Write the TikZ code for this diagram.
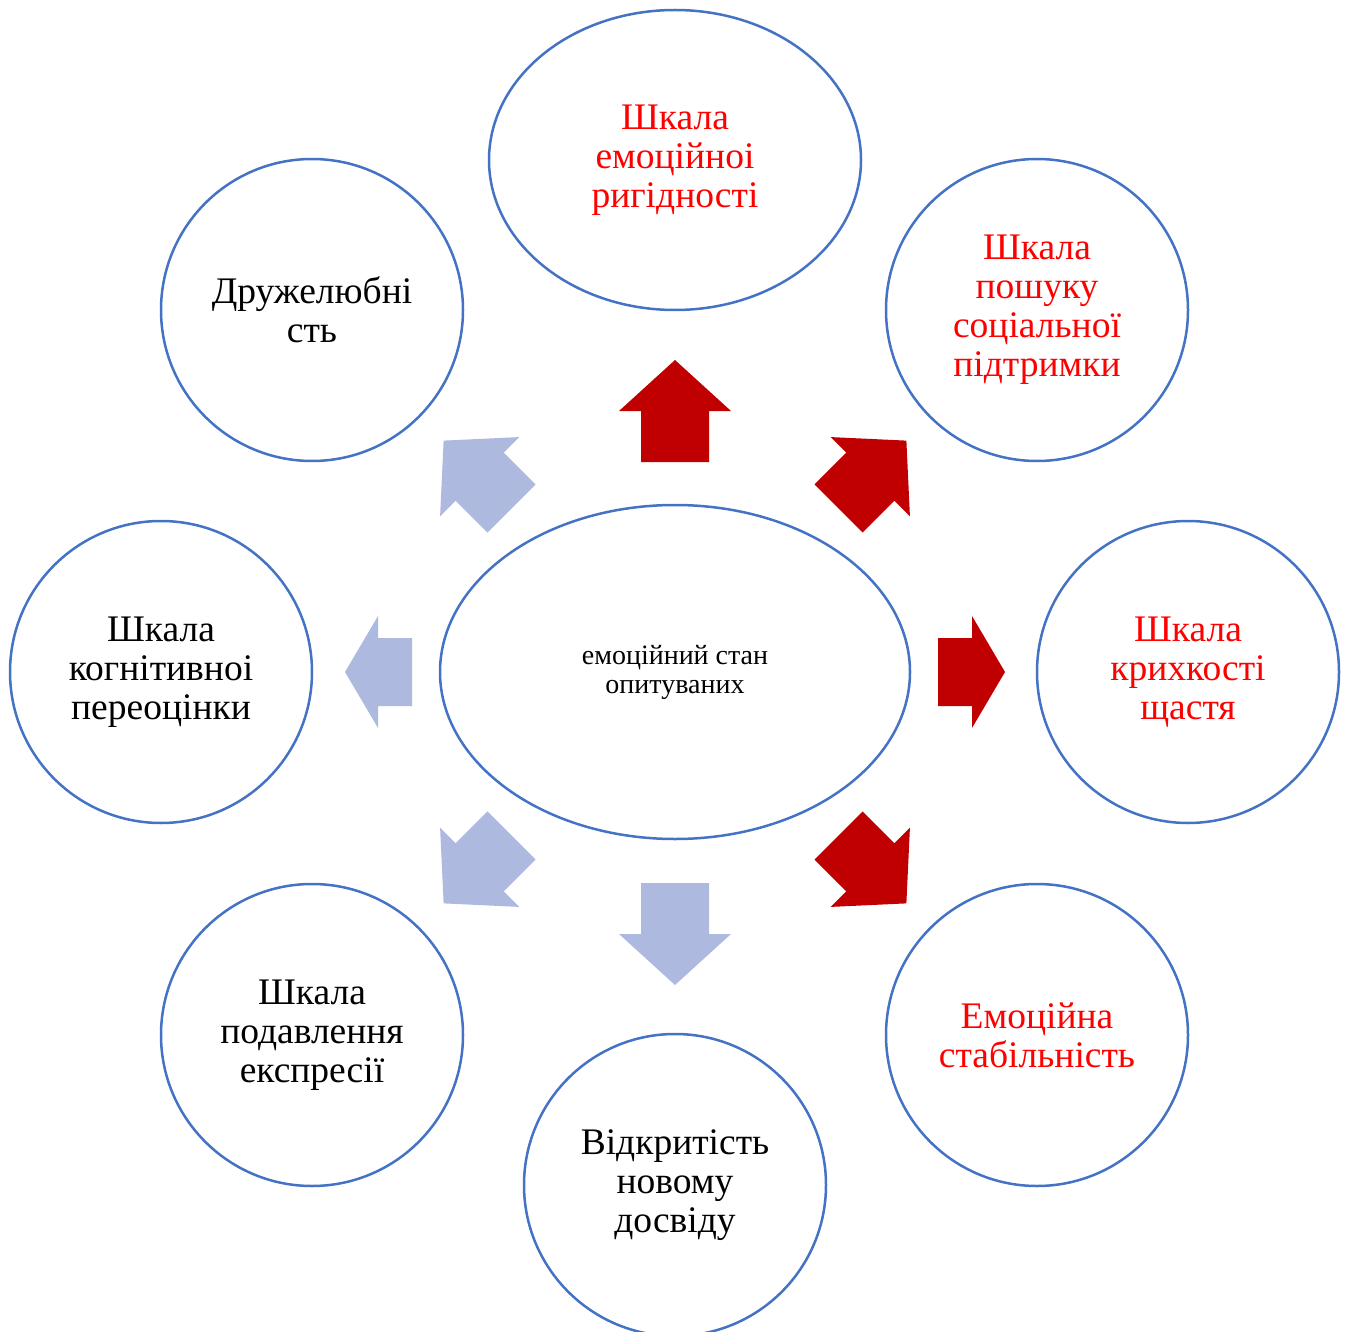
\documentclass[tikz,border=0pt]{standalone}
\usepackage{fontspec}
\setmainfont{Liberation Serif}
\usetikzlibrary{shapes.geometric}
\definecolor{ringblue}{HTML}{4472C4}
\definecolor{darkred}{HTML}{C00000}
\definecolor{softblue}{RGB}{174,185,224}
\definecolor{brightred}{HTML}{FF0000}
\tikzset{
  ring/.style={circle, draw=ringblue, line width=2.5pt, minimum size=302pt,
    inner sep=0pt, align=center, font=\fontsize{37.5}{39}\selectfont},
  oval/.style={ellipse, draw=ringblue, line width=2.5pt, inner sep=0pt,
    align=center},
  hot/.style={text=brightred},
  % block arrow: back edge centred on the pic origin, pointing along +x
  pics/barrow/.style n args={2}{code={
    \fill (0,-34) -- ({#1-#2},-34) -- ({#1-#2},-56) -- (#1,0)
      -- ({#1-#2},56) -- ({#1-#2},34) -- (0,34) -- cycle;
  }}
}
\begin{document}
\begin{tikzpicture}[x=1pt,y=-1pt]
\useasboundingbox (0,0) rectangle (1347,1332);
\begin{scope}
\clip (0,0) rectangle (1347,1332);

% centre
\node[oval, minimum width=470pt, minimum height=334pt,
  font=\fontsize{28}{29}\selectfont] (core) at (675,672)
  {емоційний стан\\опитуваних};

% surrounding scales
\node[oval, hot, minimum width=372pt, minimum height=300pt,
  font=\fontsize{37.5}{39}\selectfont] (rigid) at (675,160)
  {Шкала\\емоційноі\\ригідності};
\node[ring, hot] (support) at (1037,310) {Шкала\\пошуку\\соціальної\\підтримки};
\node[ring, hot] (fragile) at (1188,672) {Шкала\\крихкості\\щастя};
\node[ring, hot] (stable) at (1037,1035) {Емоційна\\стабільність};
\node[ring] (open) at (675,1185) {Відкритість\\новому\\досвіду};
\node[ring] (suppress) at (312,1035) {Шкала\\подавлення\\експресії};
\node[ring] (cognitive) at (161,672) {Шкала\\когнітивноі\\переоцінки};
\node[ring] (friendly) at (312,310) {Дружелюбні\\сть};

% block arrows from the centre
\begin{scope}[darkred]
\pic[rotate=90] at (675,462) {barrow={102}{51}};
\pic[rotate=45] at (838.5,508.5) {barrow={96}{51}};
\pic at (938,672) {barrow={67}{33}};
\pic[rotate=-45] at (838.5,835.5) {barrow={96}{51}};
\end{scope}
\begin{scope}[softblue]
\pic[rotate=-90] at (675,883) {barrow={102}{51}};
\pic[rotate=-135] at (511.5,835.5) {barrow={96}{51}};
\pic[rotate=180] at (412,672) {barrow={67}{33}};
\pic[rotate=135] at (511.5,508.5) {barrow={96}{51}};
\end{scope}
\end{scope}
\end{tikzpicture}
\end{document}
